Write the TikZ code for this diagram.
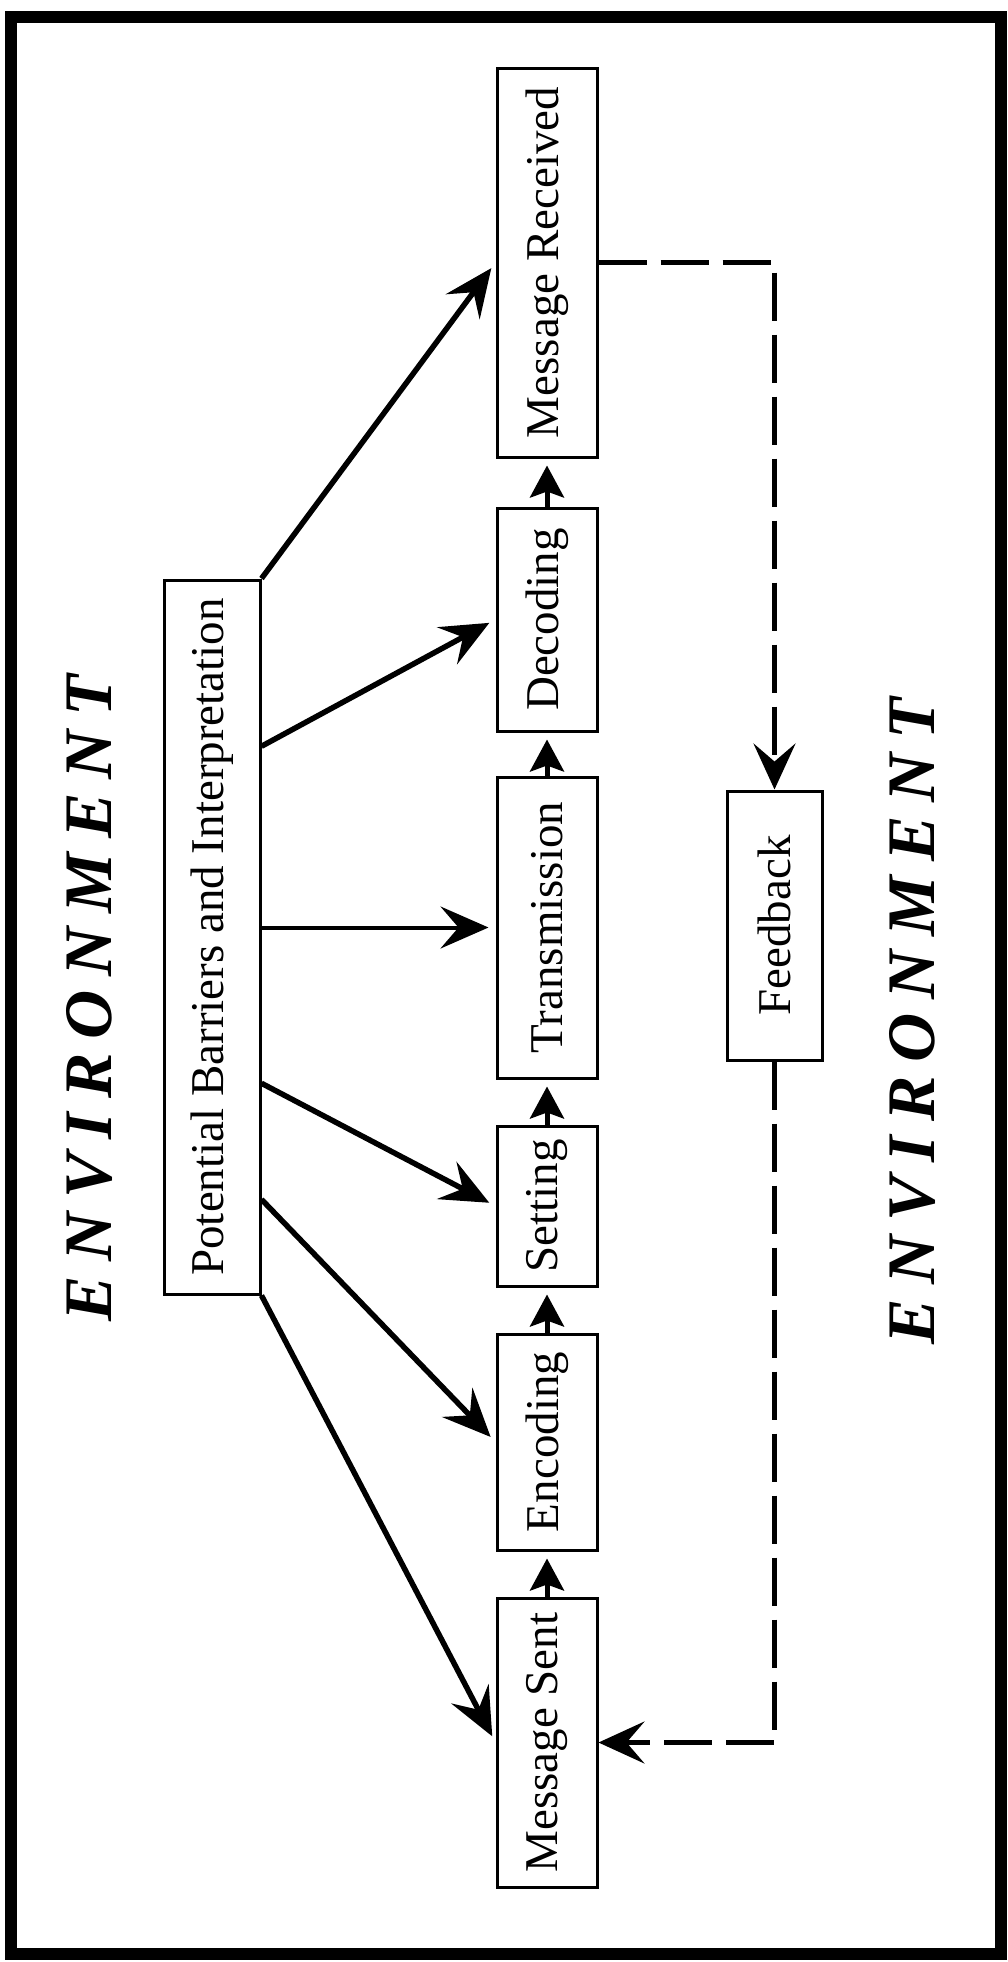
\documentclass[tikz,border=0pt]{standalone}
\usepackage{fontspec}
\setmainfont{Liberation Serif}
\usetikzlibrary{arrows.meta,calc}
\newcommand{\envword}{E\kern14pt N\kern14pt V\kern14pt I\kern14pt R\kern14pt O\kern14pt
  N\kern14pt M\kern14pt E\kern14pt N\kern14pt T}
\begin{document}
\begin{tikzpicture}[x=1pt,y=-1pt,
  box/.style={draw, line width=3pt, inner sep=0pt, minimum width=100pt,
    font=\fontsize{47}{56}\selectfont},
  bigarrow/.style={line width=5.5pt, -{Stealth[length=48pt,width=42pt,inset=18pt]},
    shorten >=7pt},
  steparrow/.style={line width=5pt, -{Stealth[length=32pt,width=34pt,inset=6pt]},
    shorten >=7pt},
  fbline/.style={line width=4.5pt, dash pattern=on 48pt off 14pt,
    -{Stealth[length=46pt,width=42pt,inset=18pt]}},
  envtext/.style={rotate=90, inner sep=0pt,
    font=\fontsize{68}{74}\selectfont\bfseries\itshape}
]
\useasboundingbox (0,0) rectangle (1007,1962);

% outer frame
\draw[line width=12pt] (11,17) rectangle (1001,1954);

% surrounding labels
\node[envtext] (envl) at (90,998) {\envword};
\node[envtext] (envr) at (912,1021) {\envword};

% communication chain, read from bottom to top
\node[box, minimum height=389pt] (mr)    at (547,262.5) {\rotatebox{90}{Message Received}};
\node[box, minimum height=223pt] (dec)   at (547,619.5) {\rotatebox{90}{Decoding}};
\node[box, minimum height=301pt] (trans) at (547,927.5) {\rotatebox{90}{Transmission}};
\node[box, minimum height=160pt] (set)   at (547,1206)  {\rotatebox{90}{Setting}};
\node[box, minimum height=216pt] (enc)   at (547,1442)  {\rotatebox{90}{Encoding}};
\node[box, minimum height=289pt] (ms)    at (547,1742.5){\rotatebox{90}{Message Sent}};

% barriers box and feedback box
\node[box, minimum width=96pt, minimum height=714pt] (pb) at (212,937)
  {\rotatebox{90}{Potential Barriers and Interpretation}};
\node[box, minimum width=95pt, minimum height=269pt] (fb) at (774.5,925.5)
  {\rotatebox{90}{Feedback}};

% steps of the chain
\draw[steparrow] (ms.north)    -- (enc.south);
\draw[steparrow] (enc.north)   -- (set.south);
\draw[steparrow] (set.north)   -- (trans.south);
\draw[steparrow] (trans.north) -- (dec.south);
\draw[steparrow] (dec.north)   -- (mr.south);

% barriers acting on every step
\draw[bigarrow] (pb.north east) -- (mr.west);
\draw[bigarrow] ($(pb.north east)!0.234!(pb.south east)$) -- (dec.west);
\draw[bigarrow, line width=4pt] (pb.east |- trans.west) -- (trans.west);
\draw[bigarrow] ($(pb.north east)!0.704!(pb.south east)$) -- (set.west);
\draw[bigarrow] ($(pb.north east)!0.866!(pb.south east)$) -- (enc.west);
\draw[bigarrow] (pb.south east) -- (ms.west);

% feedback loop
\draw[fbline] (mr.east) -| (fb.north);
\draw[fbline] (fb.south) |- (ms.east);
\end{tikzpicture}
\end{document}
